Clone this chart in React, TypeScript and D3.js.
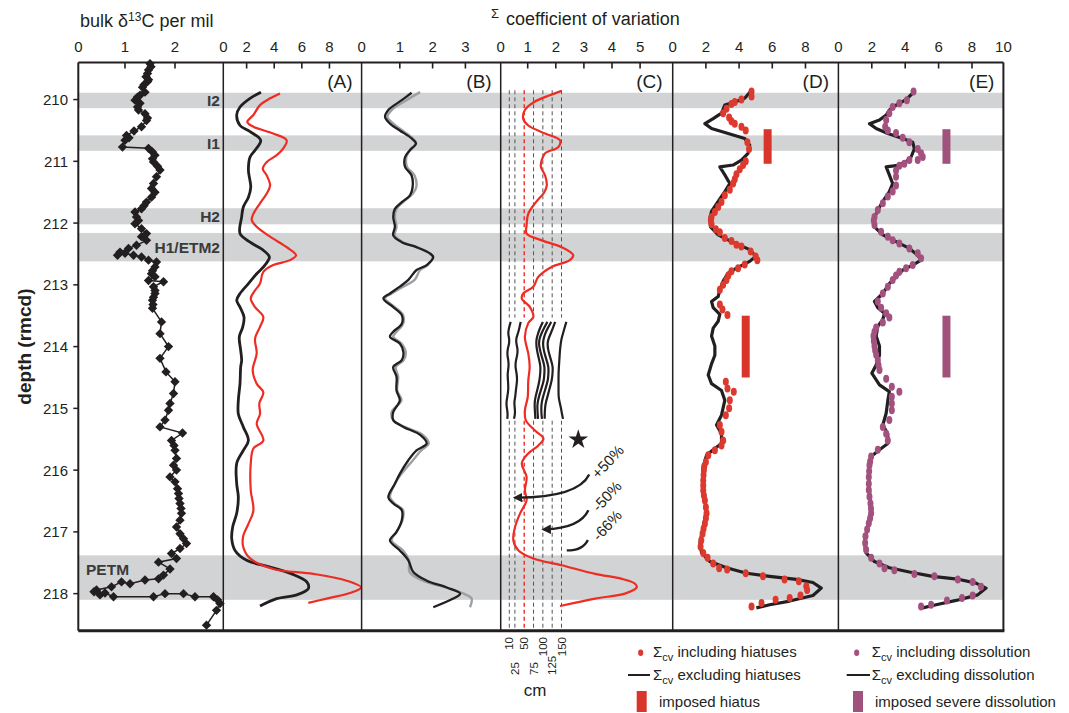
import React from 'react';
import * as d3 from 'd3';

const FONT = "'Liberation Sans', Arial, Helvetica, sans-serif";

// ---------- axis / categorical data ----------
const depthTicks = [210, 211, 212, 213, 214, 215, 216, 217, 218];
const d13cTicks = [1, 2];
const aTicks = [2, 4, 6, 8];
const bTicks = [1, 2, 3];
const cTicks = [1, 2, 3, 4, 5];
const dTicks = [2, 4, 6, 8];
const eTicks = [2, 4, 6, 8];
const panelLabels = ['(A)', '(B)', '(C)', '(D)', '(E)'];

const bands = [
  { label: 'I2', top: 209.89, bottom: 210.14 },
  { label: 'I1', top: 210.58, bottom: 210.83 },
  { label: 'H2', top: 211.76, bottom: 212.02 },
  { label: 'H1/ETM2', top: 212.16, bottom: 212.62 },
  { label: 'PETM', top: 217.38, bottom: 218.10 },
];

// ---------- bulk d13C (depth, per mil) ----------
const d13c: [number, number][] = [
  [209.42, 1.5], [209.47, 1.52], [209.52, 1.47], [209.58, 1.45], [209.63, 1.42], [209.68, 1.47], [209.71, 1.45], [209.76, 1.38], [209.8, 1.35], [209.88, 1.4], [209.93, 1.3], [209.96, 1.25],
  [210.01, 1.2], [210.06, 1.3], [210.12, 1.25], [210.17, 1.27], [210.23, 1.4], [210.3, 1.45], [210.34, 1.43], [210.44, 1.33], [210.51, 1.18],
  [210.58, 1.03], [210.62, 1.08], [210.66, 1.0], [210.77, 0.95], [210.79, 1.47], [210.85, 1.55], [210.9, 1.6], [210.96, 1.55], [211.01, 1.57], [211.08, 1.65], [211.14, 1.7],
  [211.25, 1.63], [211.36, 1.57], [211.44, 1.53], [211.5, 1.6], [211.58, 1.53], [211.66, 1.43], [211.72, 1.38], [211.77, 1.33],
  [211.82, 1.2], [211.9, 1.23], [211.96, 1.27], [212.01, 1.2], [212.09, 1.33], [212.17, 1.43], [212.22, 1.33], [212.28, 1.43],
  [212.36, 1.23], [212.41, 1.07], [212.47, 0.9], [212.52, 0.85], [212.49, 1.0], [212.52, 1.17], [212.55, 1.33],
  [212.6, 1.47], [212.63, 1.63], [212.71, 1.6], [212.77, 1.55], [212.82, 1.53], [212.87, 1.6], [212.93, 1.47], [212.95, 1.77],
  [213.03, 1.57], [213.09, 1.6], [213.14, 1.6], [213.2, 1.57], [213.25, 1.55], [213.32, 1.56], [213.38, 1.55], [213.6, 1.73], [213.79, 1.7], [214.0, 1.87],
  [214.19, 1.7], [214.41, 1.82], [214.57, 2.0], [214.76, 1.97], [214.92, 1.9], [215.03, 1.87], [215.19, 1.8],
  [215.3, 1.7], [215.4, 2.15], [215.52, 1.93], [215.6, 1.98], [215.68, 2.0], [215.81, 2.03], [215.92, 1.97], [216.0, 2.03],
  [216.11, 1.9], [216.19, 2.0], [216.3, 2.05], [216.38, 2.07], [216.46, 2.08], [216.54, 2.1], [216.62, 2.12], [216.7, 2.13], [216.81, 2.1], [216.92, 2.03],
  [217.03, 2.1], [217.11, 2.17], [217.19, 2.23], [217.27, 2.1], [217.35, 1.93], [217.43, 2.03], [217.49, 1.67],
  [217.6, 1.9], [217.7, 1.77], [217.76, 1.67], [217.78, 1.4], [217.84, 1.1], [217.81, 0.93], [217.89, 0.73],
  [217.94, 0.43], [217.97, 0.38], [218.02, 0.5], [217.99, 0.6], [218.05, 0.77], [218.05, 1.57], [218.0, 1.8],
  [218.0, 2.17], [218.05, 2.4], [218.05, 2.77], [218.1, 2.85], [218.16, 2.9], [218.27, 2.83], [218.51, 2.63],
];

// ---------- panel A ----------
const aBlack: [number, number][] = [
  [209.88, 3.04], [209.98, 2.25], [210.12, 1.52], [210.25, 1.28], [210.42, 1.52], [210.52, 2.25], [210.66, 3.02],
  [210.82, 2.61], [210.93, 2.25], [211.14, 2.13], [211.42, 2.3], [211.58, 2.13], [211.74, 1.76], [211.9, 1.64],
  [212.17, 1.52], [212.31, 2.25], [212.44, 3.21], [212.55, 3.65], [212.68, 3.33], [212.82, 2.73], [212.98, 2.13],
  [213.14, 1.52], [213.25, 1.28], [213.36, 1.52], [213.52, 1.81], [213.68, 1.72], [213.84, 1.47], [214.06, 1.57],
  [214.22, 1.64], [214.33, 1.57], [214.6, 1.52], [214.87, 1.4], [215.09, 1.4], [215.3, 1.76], [215.52, 2.13],
  [215.68, 1.76], [215.89, 1.28], [216.22, 1.28], [216.44, 1.4], [216.7, 1.28], [216.92, 0.99], [217.11, 0.92],
  [217.3, 1.16], [217.46, 2.0], [217.57, 3.7], [217.68, 5.27], [217.81, 6.36], [217.92, 6.47], [218.02, 5.63],
  [218.08, 4.18], [218.2, 2.97],
];
const aRed: [number, number][] = [
  [209.9, 4.42], [209.98, 3.7], [210.09, 2.97], [210.25, 2.49], [210.36, 2.05], [210.44, 2.49], [210.55, 3.93],
  [210.66, 4.9], [210.79, 4.66], [210.9, 4.18], [211.01, 3.46], [211.12, 3.17], [211.23, 3.46], [211.39, 3.7],
  [211.52, 3.46], [211.68, 2.97], [211.85, 2.49], [211.95, 2.37], [212.06, 2.73], [212.22, 3.7], [212.39, 4.9],
  [212.52, 5.58], [212.6, 5.14], [212.68, 3.93], [212.79, 3.21], [212.98, 2.97], [213.09, 2.61], [213.22, 2.3],
  [213.36, 2.61], [213.52, 3.21], [213.68, 2.97], [213.87, 2.61], [214.11, 2.73], [214.38, 2.44], [214.6, 2.73],
  [214.74, 3.21], [214.92, 2.92], [215.09, 2.97], [215.25, 2.73], [215.52, 3.21], [215.65, 2.49], [215.89, 2.3],
  [216.33, 2.3], [216.65, 2.49], [216.87, 2.13], [217.06, 1.76], [217.25, 1.76], [217.43, 2.25], [217.6, 3.93],
  [217.68, 6.83], [217.79, 9.25], [217.9, 10.3], [217.99, 9.49], [218.08, 7.8], [218.15, 6.47],
];

// ---------- panel B ----------
const bBlack: [number, number][] = [
  [209.89, 1.36], [210.01, 1.06], [210.17, 0.65], [210.28, 0.55], [210.39, 0.7], [210.5, 1.0], [210.63, 1.36],
  [210.71, 1.49], [210.82, 1.31], [210.93, 1.16], [211.09, 1.16], [211.23, 1.36], [211.42, 1.39], [211.55, 1.31],
  [211.66, 1.06], [211.77, 0.85], [211.9, 0.8], [212.06, 0.85], [212.2, 0.8], [212.31, 1.06], [212.39, 1.51],
  [212.49, 1.92], [212.55, 2.02], [212.68, 1.82], [212.76, 1.51], [212.92, 1.26], [213.03, 1.0], [213.14, 0.7],
  [213.22, 0.5], [213.36, 0.8], [213.49, 1.06], [213.63, 1.06], [213.76, 0.8], [213.84, 0.7], [213.95, 1.0],
  [214.09, 1.11], [214.22, 1.06], [214.33, 0.8], [214.49, 0.9], [214.71, 0.9], [214.87, 1.0], [215.06, 0.8],
  [215.19, 0.8], [215.3, 1.11], [215.43, 1.62], [215.57, 1.82], [215.68, 1.51], [215.84, 1.26], [216.06, 1.0],
  [216.22, 0.85], [216.44, 0.65], [216.54, 0.8], [216.65, 1.06], [216.81, 1.06], [217.0, 0.9], [217.14, 0.7],
  [217.3, 1.0], [217.46, 1.26], [217.65, 1.41], [217.79, 1.82], [217.9, 2.43], [218.0, 2.84], [218.08, 2.63],
  [218.22, 2.02],
];
const bGray: [number, number][] = [
  [209.88, 1.62], [210.01, 1.2], [210.17, 0.75], [210.28, 0.62], [210.39, 0.8], [210.5, 1.08], [210.63, 1.4],
  [210.71, 1.5], [210.82, 1.3], [210.93, 1.2], [211.09, 1.22], [211.23, 1.45], [211.42, 1.5], [211.55, 1.35],
  [211.66, 1.1], [211.77, 0.9], [211.9, 0.85], [212.06, 0.9], [212.2, 0.85], [212.31, 1.1], [212.39, 1.5],
  [212.49, 1.9], [212.55, 2.0], [212.68, 1.85], [212.76, 1.62], [212.92, 1.45], [213.03, 1.1], [213.14, 0.75],
  [213.22, 0.55], [213.36, 0.85], [213.49, 1.1], [213.63, 1.1], [213.76, 0.9], [213.84, 0.8], [213.95, 1.05],
  [214.09, 1.18], [214.22, 1.12], [214.33, 0.88], [214.49, 0.95], [214.71, 0.92], [214.87, 1.05], [215.06, 0.75],
  [215.19, 0.8], [215.3, 1.15], [215.43, 1.7], [215.57, 1.88], [215.68, 1.65], [215.84, 1.4], [216.06, 1.05],
  [216.22, 0.85], [216.44, 0.7], [216.54, 0.85], [216.65, 1.1], [216.81, 1.08], [217.0, 0.9], [217.14, 0.75],
  [217.3, 1.1], [217.46, 1.28], [217.65, 1.3], [217.79, 1.7], [217.9, 2.4], [218.0, 2.95], [218.08, 3.19],
  [218.22, 3.14],
];

// ---------- panel C ----------
const cRed: [number, number][] = [
  [209.86, 2.21], [209.93, 1.79], [210.04, 1.23], [210.17, 0.9], [210.31, 0.84], [210.42, 1.02], [210.55, 1.62],
  [210.66, 2.15], [210.77, 2.09], [210.87, 1.62], [210.98, 1.5], [211.09, 1.47], [211.23, 1.62], [211.39, 1.68],
  [211.5, 1.59], [211.68, 1.26], [211.85, 1.02], [212.04, 0.96], [212.17, 0.96], [212.28, 1.5], [212.39, 2.21],
  [212.52, 2.62], [212.6, 2.5], [212.71, 1.85], [212.87, 1.38], [213.03, 1.2], [213.14, 0.84], [213.22, 0.79],
  [213.36, 1.08], [213.52, 1.2], [213.62, 1.02], [213.84, 0.9], [214.0, 0.96], [214.11, 1.02], [214.33, 1.07],
  [214.55, 1.02], [214.82, 1.0], [215.03, 0.9], [215.19, 0.93], [215.36, 1.26], [215.49, 1.56], [215.6, 1.38],
  [215.73, 1.02], [215.89, 0.79], [216.11, 0.96], [216.33, 0.9], [216.49, 0.96], [216.7, 0.73], [216.92, 0.55],
  [217.14, 0.49], [217.3, 0.67], [217.43, 1.2], [217.54, 2.21], [217.68, 3.4], [217.76, 4.35], [217.84, 4.82],
  [217.9, 4.88], [218.0, 4.46], [218.08, 3.4], [218.2, 2.15],
];
const smoothingCm = [10, 25, 50, 75, 100, 125, 150];
const smoothingTop = [10, 50, 100, 150];
const smoothingBottom = [25, 75, 125];
const dashUpper = [209.85, 213.53];
const dashLower = [215.2, 218.6];
const wavyDepths = [213.6, 213.7, 213.79, 213.87, 213.95, 214.05, 214.14, 214.24, 214.33, 214.44, 214.55, 214.68, 214.82, 214.9, 214.98, 215.08, 215.17];
const wavyLines: number[][] = [
  [13.7, 9, 6.4, 10, 9.9, 5, 4.6, 8, 8.3, 5, 6.4, 8, 4.6, 2, 2.9, 6, 4.6],
  [40.5, 37, 33.2, 28, 28.7, 33, 31.4, 27, 26, 30, 31.4, 28, 26, 23, 24.4, 26, 22.5],
  [100, 92, 87, 83, 82, 84, 87, 91, 94, 93, 91, 86, 80, 78, 78, 79, 80],
  [112, 103, 96, 91, 89, 92, 96, 101, 105, 104, 103, 96, 89, 86, 85, 86, 87],
  [122.5, 113, 106, 102, 100, 102, 106, 111, 115.5, 115, 113.7, 107, 100, 97, 95.7, 96, 97.6],
  [133, 127, 121, 115, 112, 114, 118, 123, 127, 126, 124, 118, 112, 108, 106, 105, 105],
  [163, 158, 154, 150, 148, 146, 145, 144, 143, 142, 142, 142, 142, 145, 148, 151, 154],
];
const star = { cv: 2.8, depth: 215.506 };
const arrows = [
  { label: '+50%', from: [3.19, 216.07], ctrl: [2.79, 216.44], to: [0.61, 216.445], head: true, text: [3.84, 215.86] },
  { label: '-50%', from: [3.16, 216.65], ctrl: [2.86, 216.94], to: [1.62, 216.96], head: true, text: [3.81, 216.42] },
  { label: '-66%', from: [3.14, 217.13], ctrl: [2.97, 217.3], to: [2.39, 217.3], head: false, text: [3.82, 216.89] },
];

// ---------- panel D ----------
const dBlack: [number, number][] = [
  [209.85, 4.75], [209.98, 4.34], [210.04, 3.74], [210.09, 3.14], [210.22, 2.94], [210.31, 2.44], [210.39, 1.94],
  [210.47, 2.34], [210.55, 3.34], [210.63, 4.34], [210.74, 4.64], [210.87, 4.54], [210.98, 4.14], [211.06, 3.64],
  [211.09, 2.84], [211.22, 3.14], [211.36, 3.44], [211.49, 3.14], [211.65, 2.74], [211.81, 2.34], [211.92, 2.24],
  [212.06, 2.28], [212.19, 2.74], [212.3, 3.54], [212.43, 4.64], [212.54, 5.0], [212.62, 4.64], [212.73, 3.84],
  [212.81, 3.34], [212.94, 3.04], [213.08, 2.84], [213.19, 2.74], [213.27, 2.34], [213.37, 2.44], [213.48, 2.84],
  [213.59, 2.74], [213.7, 2.44], [213.83, 2.34], [213.99, 2.54], [214.14, 2.54], [214.28, 2.34], [214.46, 2.14],
  [214.6, 2.34], [214.71, 2.94], [214.87, 3.14], [215.11, 2.94], [215.27, 2.64], [215.41, 2.94], [215.57, 2.94],
  [215.67, 2.44], [215.76, 2.04], [215.94, 1.84], [216.32, 1.8], [216.64, 2.04], [216.91, 1.84], [217.18, 1.64],
  [217.34, 1.74], [217.48, 2.24], [217.58, 3.24], [217.67, 4.45], [217.72, 5.84], [217.77, 7.45], [217.82, 8.45],
  [217.91, 8.95], [218.03, 8.45], [218.12, 7.05], [218.18, 5.84], [218.23, 5.04],
];
const dDots: [number, number][] = [
  [209.87, 4.75], [209.95, 4.75], [210.0, 4.14], [210.04, 3.74], [210.07, 3.54], [210.15, 3.24], [210.22, 3.04],
  [210.29, 3.4], [210.35, 3.54], [210.39, 3.74], [210.44, 4.14], [210.5, 4.4], [210.69, 4.5], [210.8, 4.6],
  [211.0, 4.4], [211.06, 4.24], [211.13, 4.04], [211.21, 3.84], [211.29, 3.74], [211.36, 3.64], [211.46, 3.44],
  [211.55, 3.14], [211.66, 2.94], [211.74, 2.74], [211.82, 2.54], [211.9, 2.34], [211.96, 2.3], [212.02, 2.34], [212.1, 2.6], [212.15, 2.84],
  [212.24, 3.14], [212.29, 3.54], [212.35, 3.84], [212.38, 4.14], [212.46, 4.7], [212.54, 5.0], [212.6, 5.1],
  [212.67, 4.34], [212.73, 3.94], [212.78, 3.54], [212.85, 3.35], [212.92, 3.24], [213.0, 3.04], [213.08, 2.84], [213.32, 2.84],
  [213.4, 3.0], [213.49, 3.3], [214.57, 3.2], [214.68, 3.3], [214.73, 3.68], [214.87, 3.44], [215.0, 3.4],
  [215.11, 3.2], [215.27, 2.84], [215.38, 2.94], [215.52, 3.04], [215.6, 2.94], [215.68, 2.54], [215.76, 2.14],
  [215.87, 2.0], [215.94, 1.9], [216.0, 1.88], [216.08, 1.86], [216.17, 1.84], [216.25, 1.84], [216.33, 1.84], [216.41, 1.88], [216.49, 1.94], [216.6, 2.0], [216.7, 2.04], [216.78, 2.0], [216.87, 1.94],
  [216.95, 1.86], [217.03, 1.8], [217.14, 1.72], [217.24, 1.68], [217.34, 1.84], [217.42, 2.1], [217.51, 2.44], [217.59, 2.8], [217.61, 3.28],
  [217.67, 4.4], [217.72, 5.44], [217.77, 6.74], [217.8, 7.6], [217.88, 8.05], [217.94, 8.1], [218.03, 7.7],
  [218.07, 7.05], [218.1, 6.2], [218.15, 5.35], [218.21, 4.75],
];
const hiatusBars = [
  { top: 210.48, bottom: 211.04, value: 5.72 },
  { top: 213.5, bottom: 214.5, value: 4.4 },
];

// ---------- panel E ----------
const eBlack: [number, number][] = [
  [209.87, 4.55], [210.0, 4.05], [210.09, 3.45], [210.17, 3.05], [210.25, 2.86], [210.33, 2.46], [210.39, 1.86],
  [210.47, 2.26], [210.55, 2.96], [210.63, 3.85], [210.69, 4.45], [210.8, 4.55], [210.93, 4.35], [211.01, 4.05],
  [211.07, 3.45], [211.09, 2.86], [211.22, 3.05], [211.36, 3.25], [211.49, 3.05], [211.65, 2.66], [211.79, 2.36],
  [211.95, 2.1], [212.06, 2.16], [212.19, 2.66], [212.3, 3.45], [212.41, 4.25], [212.52, 4.75], [212.6, 4.95],
  [212.68, 4.45], [212.76, 3.85], [212.87, 3.45], [212.98, 3.05], [213.14, 2.66], [213.27, 2.16], [213.37, 2.36],
  [213.46, 2.76], [213.56, 2.66], [213.67, 2.36], [213.83, 2.26], [213.99, 2.46], [214.14, 2.46], [214.3, 2.26],
  [214.43, 2.0], [214.62, 2.46], [214.73, 3.05], [214.87, 2.96], [215.08, 2.86], [215.27, 2.66], [215.41, 2.96],
  [215.57, 2.96], [215.67, 2.46], [215.78, 1.96], [215.94, 1.82], [216.32, 1.86], [216.64, 1.96], [216.91, 1.76],
  [217.18, 1.56], [217.34, 1.66], [217.48, 2.16], [217.58, 3.05], [217.65, 4.25], [217.72, 5.64], [217.77, 7.25],
  [217.83, 8.24], [217.91, 8.84], [218.02, 8.34], [218.11, 7.05], [218.18, 5.85], [218.23, 5.05],
];
const eDots: [number, number][] = [
  [209.87, 4.5], [210.01, 4.1], [210.06, 3.65], [210.12, 3.25], [210.22, 3.05], [210.33, 2.86], [210.44, 2.8],
  [210.5, 2.96], [210.54, 3.45], [210.62, 3.85], [210.69, 4.25], [210.8, 4.75], [210.87, 4.95], [210.93, 5.05],
  [210.98, 4.75], [210.98, 4.25], [211.04, 3.95], [211.07, 3.65], [211.15, 3.45], [211.25, 3.45], [211.39, 3.45],
  [211.49, 3.25], [211.57, 2.96], [211.68, 2.66], [211.79, 2.36], [211.9, 2.16], [211.96, 2.12], [212.03, 2.16], [212.14, 2.56],
  [212.22, 2.96], [212.28, 3.25], [212.33, 3.65], [212.41, 4.25], [212.49, 4.75], [212.57, 4.95], [212.68, 4.45],
  [212.73, 4.05], [212.79, 3.65], [212.85, 3.45], [212.92, 3.25], [213.03, 2.96], [213.14, 2.66], [213.27, 2.36], [213.37, 2.56],
  [213.46, 2.86], [213.53, 3.05], [213.61, 2.66], [213.69, 2.26], [213.76, 2.16], [213.83, 2.1], [213.91, 2.12], [213.99, 2.16], [214.06, 2.2], [214.13, 2.26],
  [214.22, 2.36], [214.3, 2.4], [214.38, 2.46], [214.52, 2.86], [214.65, 3.2], [214.73, 3.65], [214.81, 3.2], [214.92, 3.2], [215.03, 3.2],
  [215.19, 3.05], [215.3, 2.66], [215.41, 2.86], [215.52, 2.96], [215.67, 2.36], [215.78, 1.96], [215.86, 1.9], [215.92, 1.86],
  [216.02, 1.84], [216.11, 1.82], [216.22, 1.82], [216.32, 1.82], [216.43, 1.86], [216.54, 1.92], [216.62, 1.95], [216.7, 1.96], [216.78, 1.9], [216.86, 1.82], [216.96, 1.72], [217.07, 1.62], [217.18, 1.6], [217.29, 1.66],
  [217.42, 1.96], [217.51, 2.46], [217.59, 2.76], [217.62, 3.35], [217.68, 4.55], [217.72, 5.75], [217.77, 7.15],
  [217.81, 8.04], [217.89, 8.54], [218.03, 8.04], [218.07, 7.4], [218.11, 6.5], [218.18, 5.55], [218.21, 4.95],
];
const dissolutionBars = [
  { top: 210.48, bottom: 211.04, value: 6.47 },
  { top: 213.5, bottom: 214.5, value: 6.47 },
];

// ---------- styles ----------
const INK = '#231f20';
const RED = '#ee2c24';
const DOT_RED = '#dc3a2e';
const PURPLE = '#a3527f';
const GRAY_LINE = '#9ba0a5';
const BAND = '#d1d3d4';

export default function App() {
  const top = 62.5;
  const bottom = 630.7;
  const y = d3.scaleLinear().domain([209.4, 218.6]).range([top, bottom]);

  const xs = {
    d13c: d3.scaleLinear().domain([0.066, 2.966]).range([78.3, 223.3]),
    a: d3.scaleLinear().domain([0.31, 10.33]).range([223.3, 361.6]),
    b: d3.scaleLinear().domain([-0.165, 4.076]).range([361.6, 500.7]),
    c: d3.scaleLinear().domain([0.039, 6.125]).range([500.7, 671.7]),
    d: d3.scaleLinear().domain([0, 9.96]).range([672.7, 838]),
    e: d3.scaleLinear().domain([0, 9.88]).range([838.4, 1003.4]),
  };
  const cmScale = d3.scaleLinear().domain([10, 150]).range([509.3, 561.5]);

  const left = 78.3;
  const right = 1003.4;

  const mkLine = (sx: d3.ScaleLinear<number, number>, curve: d3.CurveFactory = d3.curveLinear) =>
    d3.line<[number, number]>().x((d) => sx(d[1])).y((d) => y(d[0])).curve(curve);
  const smooth = d3.curveCatmullRom.alpha(0.5);

  const axes = [
    { s: xs.d13c, ticks: d13cTicks },
    { s: xs.a, ticks: aTicks },
    { s: xs.b, ticks: bTicks },
    { s: xs.c, ticks: cTicks },
    { s: xs.d, ticks: dTicks },
    { s: xs.e, ticks: eTicks },
  ];
  const panelScales = [xs.a, xs.b, xs.c, xs.d, xs.e];

  const diamond = d3.symbol().type(d3.symbolSquare).size(44)()!;
  const starPath = d3.symbol().type(d3.symbolStar).size(120)()!;

  const wavyGen = d3
    .line<[number, number]>()
    .x((d) => cmScale(d[1]))
    .y((d) => y(d[0]))
    .curve(d3.curveBasis);

  const tickBase = 52;

  return (
    <svg
      width={1069}
      height={713}
      style={{ position: 'absolute', left: 0, top: 0, background: '#fff' }}
      fontFamily={FONT}
    >
      <defs>
        <marker id="ah" viewBox="0 0 10 10" refX="6" refY="5" markerWidth="4" markerHeight="4" orient="auto">
          <path d="M0,0 L10,5 L0,10 z" fill={INK} />
        </marker>
      </defs>
      <rect x={0} y={0} width={1069} height={713} fill="#fff" />

      {/* gray event bands */}
      {bands.map((b) => (
        <rect key={b.label} x={left} y={y(b.top)} width={right - left} height={y(b.bottom) - y(b.top)} fill={BAND} />
      ))}
      {bands.map((b) =>
        b.label === 'PETM' ? (
          <text key={'t' + b.label} x={86} y={y((b.top + b.bottom) / 2) - 3} fontSize={15.5} fontWeight="bold" fill="#3a3a3a">
            {b.label}
          </text>
        ) : (
          <text key={'t' + b.label} x={220} y={y((b.top + b.bottom) / 2) + 5.5} fontSize={15.5} fontWeight="bold" textAnchor="end" fill="#3a3a3a">
            {b.label}
          </text>
        )
      )}

      {/* titles */}
      <text x={80} y={27} fontSize={18} fill={INK}>
        bulk δ<tspan dy={-6} fontSize={12}>13</tspan>
        <tspan dy={6}>C per mil</tspan>
      </text>
      <text x={491} y={18} fontSize={13} fill={INK}>Σ</text>
      <text x={506} y={25} fontSize={18} fill={INK}>coefficient of variation</text>

      {/* top axis: tick marks and labels */}
      {axes.map((ax, i) => (
        <g key={'ax' + i}>
          <text x={ax.s.range()[0]} y={tickBase} fontSize={15} textAnchor="middle" fill={INK}>0</text>
          {ax.ticks.map((t) => (
            <g key={t}>
              <line x1={ax.s(t)} x2={ax.s(t)} y1={top} y2={top + 6} stroke={INK} strokeWidth={1.6} />
              <text x={ax.s(t)} y={tickBase} fontSize={15} textAnchor="middle" fill={INK}>{t}</text>
            </g>
          ))}
        </g>
      ))}
      <text x={right} y={tickBase} fontSize={15} textAnchor="middle" fill={INK}>10</text>

      {/* depth axis */}
      {depthTicks.map((t) => (
        <g key={'dt' + t}>
          <line x1={left - 5} x2={left} y1={y(t)} y2={y(t)} stroke={INK} strokeWidth={1.5} />
          <text x={68} y={y(t) + 5.5} fontSize={15} textAnchor="end" fill={INK}>{t}</text>
        </g>
      ))}
      <text
        transform={`translate(31,${(top + bottom) / 2}) rotate(-90)`}
        textAnchor="middle"
        fontSize={19}
        fontWeight="bold"
        fill={INK}
      >
        depth (rmcd)
      </text>

      {/* panel C smoothing guides */}
      {smoothingCm.map((c) => (
        <g key={'cm' + c}>
          {[dashUpper, dashLower].map((seg, k) => (
            <line
              key={k}
              x1={cmScale(c)}
              x2={cmScale(c)}
              y1={y(seg[0])}
              y2={y(seg[1])}
              stroke={c === 50 ? RED : '#555'}
              strokeWidth={c === 50 ? 1.4 : 1}
              strokeDasharray="4,3"
            />
          ))}
        </g>
      ))}
      {wavyLines.map((vals, i) => (
        <path
          key={'wv' + i}
          d={wavyGen(wavyDepths.map((dp, j) => [dp, vals[j]] as [number, number]))!}
          fill="none"
          stroke={INK}
          strokeWidth={2.2}
        />
      ))}

      {/* data lines */}
      <path d={mkLine(xs.d13c)(d13c)!} fill="none" stroke={INK} strokeWidth={1.5} />
      {d13c.map((d, i) => (
        <path key={'dm' + i} d={diamond} transform={`translate(${xs.d13c(d[1])},${y(d[0])}) rotate(45)`} fill={INK} />
      ))}

      <path d={mkLine(xs.a, smooth)(aBlack)!} fill="none" stroke={INK} strokeWidth={2.8} />
      <path d={mkLine(xs.a, smooth)(aRed)!} fill="none" stroke={RED} strokeWidth={2.2} />

      <path d={mkLine(xs.b, smooth)(bGray)!} fill="none" stroke={GRAY_LINE} strokeWidth={2.4} />
      <path d={mkLine(xs.b, smooth)(bBlack)!} fill="none" stroke={INK} strokeWidth={2.3} />

      <path d={mkLine(xs.c, smooth)(cRed)!} fill="none" stroke={RED} strokeWidth={2.2} />

      {/* star and arrows */}
      <path d={starPath} transform={`translate(${xs.c(star.cv)},${y(star.depth)})`} fill={INK} />
      {arrows.map((a) => {
        const p = d3.path();
        p.moveTo(xs.c(a.from[0]), y(a.from[1]));
        p.quadraticCurveTo(xs.c(a.ctrl[0]), y(a.ctrl[1]), xs.c(a.to[0]), y(a.to[1]));
        return (
          <g key={a.label}>
            <path d={p.toString()} fill="none" stroke={INK} strokeWidth={2.4} markerEnd={a.head ? 'url(#ah)' : undefined} />
            <text
              transform={`translate(${xs.c(a.text[0])},${y(a.text[1])}) rotate(-47)`}
              textAnchor="middle"
              dominantBaseline="central"
              fontSize={15}
              fill={INK}
            >
              {a.label}
            </text>
          </g>
        );
      })}

      {/* panel D */}
      {hiatusBars.map((b, i) => (
        <rect key={'hb' + i} x={xs.d(b.value) - 4} y={y(b.top)} width={8} height={y(b.bottom) - y(b.top)} fill="#d9352a" />
      ))}
      <path d={mkLine(xs.d)(dBlack)!} fill="none" stroke={INK} strokeWidth={3.2} strokeLinejoin="round" />
      {dDots.map((d, i) => (
        <ellipse key={'dd' + i} cx={xs.d(d[1])} cy={y(d[0])} rx={3} ry={4} fill={DOT_RED} />
      ))}

      {/* panel E */}
      {dissolutionBars.map((b, i) => (
        <rect key={'db' + i} x={xs.e(b.value) - 4} y={y(b.top)} width={8} height={y(b.bottom) - y(b.top)} fill="#a0527c" />
      ))}
      <path d={mkLine(xs.e)(eBlack)!} fill="none" stroke={INK} strokeWidth={3.2} strokeLinejoin="round" />
      {eDots.map((d, i) => (
        <ellipse key={'ed' + i} cx={xs.e(d[1])} cy={y(d[0])} rx={3} ry={4} fill={PURPLE} />
      ))}

      {/* panel labels */}
      {panelScales.map((s, i) => (
        <text key={'pl' + i} x={s.range()[1] - 9} y={88} fontSize={19} textAnchor="end" fill={INK}>
          {panelLabels[i]}
        </text>
      ))}

      {/* frame */}
      <line x1={left} x2={right} y1={top} y2={top} stroke={INK} strokeWidth={2} />
      <line x1={left} x2={right + 1} y1={bottom} y2={bottom} stroke={INK} strokeWidth={3} />
      {[xs.d13c, ...panelScales].map((s, i) => (
        <line
          key={'vb' + i}
          x1={s.range()[0]}
          x2={s.range()[0]}
          y1={top}
          y2={bottom}
          stroke={INK}
          strokeWidth={i === 0 ? 2 : 1.5}
        />
      ))}
      <line x1={right} x2={right} y1={top} y2={bottom} stroke={INK} strokeWidth={2} />

      {/* cm labels */}
      {smoothingTop.map((c) => (
        <text key={'ct' + c} transform={`translate(${cmScale(c)},637) rotate(-90)`} textAnchor="end" dy="0.35em" fontSize={11.5} fill={INK}>
          {c}
        </text>
      ))}
      {smoothingBottom.map((c) => (
        <text key={'cb' + c} transform={`translate(${cmScale(c)},675) rotate(-90)`} textAnchor="start" dy="0.35em" fontSize={11.5} fill={INK}>
          {c}
        </text>
      ))}
      <text x={535} y={696} fontSize={17} textAnchor="middle" fill={INK}>cm</text>

      {/* legend */}
      <g fontSize={15} fill={INK}>
        <ellipse cx={640.7} cy={652.7} rx={2.6} ry={3.2} fill={DOT_RED} />
        <text x={653} y={657}>
          Σ<tspan dy={4} fontSize={11}>cv</tspan>
          <tspan dy={-4}> including hiatuses</tspan>
        </text>
        <line x1={628} x2={650} y1={675} y2={675} stroke={INK} strokeWidth={2} />
        <text x={653} y={680}>
          Σ<tspan dy={4} fontSize={11}>cv</tspan>
          <tspan dy={-4}> excluding hiatuses</tspan>
        </text>
        <rect x={636.7} y={691} width={10} height={21} fill="#d9352a" />
        <text x={659} y={707}>imposed hiatus</text>

        <ellipse cx={856.7} cy={652.7} rx={2.6} ry={3.2} fill={PURPLE} />
        <text x={871.7} y={657}>
          Σ<tspan dy={4} fontSize={11}>cv</tspan>
          <tspan dy={-4}> including dissolution</tspan>
        </text>
        <line x1={846.7} x2={870} y1={675} y2={675} stroke={INK} strokeWidth={2} />
        <text x={871.7} y={680}>
          Σ<tspan dy={4} fontSize={11}>cv</tspan>
          <tspan dy={-4}> excluding dissolution</tspan>
        </text>
        <rect x={853} y={691} width={10} height={21} fill="#a0527c" />
        <text x={875} y={707}>imposed severe dissolution</text>
      </g>
    </svg>
  );
}
